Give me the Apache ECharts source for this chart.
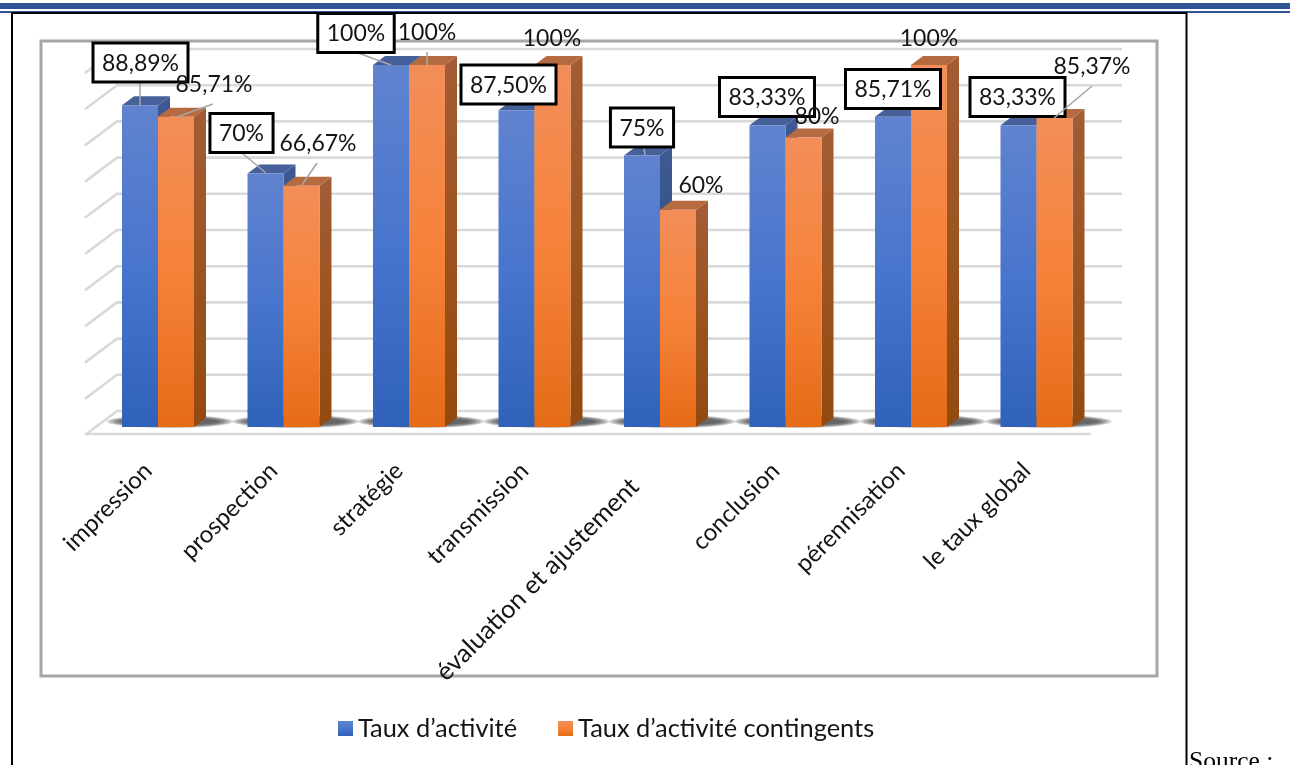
<!DOCTYPE html>
<html>
<head>
<meta charset="utf-8">
<style>
  html, body { margin: 0; padding: 0; background: #fff; }
  #chart { width: 1290px; height: 765px; }
</style>
<script src="https://cdn.jsdelivr.net/npm/echarts@6/dist/echarts.min.js"></script>
</head>
<body>
<div id="chart"></div>
<script>
const categories = ['impression', 'prospection', 'stratégie', 'transmission', 'évaluation et ajustement', 'conclusion', 'pérennisation', 'le taux global'];
const tauxActivite = [88.89, 70, 100, 87.5, 75, 83.33, 85.71, 83.33];
const tauxContingents = [85.71, 66.67, 100, 100, 60, 80, 100, 85.37];
const gridTicks = [0, 10, 20, 30, 40, 50, 60, 70, 80, 90, 100];

const FONT = 'Lato, "Open Sans", sans-serif';
const TEXT = '#141414';
const DEPTH_X = 12, DEPTH_Y = 9, BAR_W = 36;

// Hand-placed label centres and leader lines, in page pixels.
const blueCentres = [[140.5, 62.5], [241.5, 133], [356, 33], [508.5, 84.5], [642, 127.5], [767, 97], [893, 89], [1017.5, 97]];
const orangeCentres = [[214, 85], [318, 144], [427, 33], [552, 39], [701, 186], [817, 117], [929, 39], [1092, 67]];
const blueLeads = [[[140, 82], [140, 105]], [[242, 153], [266, 173]], [[358, 53], [391, 65]], null, [[644, 148], [645, 155]], null, null, null];
const orangeLeads = [[[213, 104], [177, 117]], [[317, 163], [302, 185]], [[427, 52], [427, 65]], null, null, null, null, [[1092, 86], [1054, 118]]];

function fmt(v) {
  return Number.isInteger(v) ? v + '%' : v.toFixed(2).replace('.', ',') + '%';
}

function grad(a, m, b) {
  return {
    type: 'linear', x: 0, y: 0, x2: 0, y2: 1,
    colorStops: [{ offset: 0, color: a }, { offset: 0.5, color: m }, { offset: 1, color: b }]
  };
}

const bluePalette = { front: grad('#6083cf', '#4875cd', '#2f62b8'), side: grad('#3f5a93', '#304f88', '#23457c'), top: '#46609a' };
const orangePalette = { front: grad('#f38e59', '#f6823a', '#e56b17'), side: grad('#a35c34', '#9c5420', '#934a10'), top: '#b66a40' };

// One 3D column: side face, top face and front face, anchored on the axis scales.
function barRenderer(shift, palette) {
  return function (params, api) {
    const top = api.coord([api.value(0), api.value(1)]);
    const base = api.coord([api.value(0), 0]);
    const x = top[0] + shift;
    const y = top[1];
    const b = base[1];
    const w = BAR_W;
    return {
      type: 'group',
      children: [
        { type: 'polygon', shape: { points: [[x + w, y], [x + w + DEPTH_X, y - DEPTH_Y], [x + w + DEPTH_X, b - DEPTH_Y], [x + w, b]] }, style: { fill: palette.side } },
        { type: 'polygon', shape: { points: [[x, y], [x + DEPTH_X, y - DEPTH_Y], [x + w + DEPTH_X, y - DEPTH_Y], [x + w, y]] }, style: { fill: palette.top } },
        { type: 'rect', shape: { x: x, y: y, width: w, height: b - y }, style: { fill: palette.front } }
      ]
    };
  };
}

// Value labels: a leader line plus text, optionally in a white box with a black outline.
function labelRenderer(values, centres, leads, boxed) {
  return function (params) {
    const i = params.dataIndex;
    const [cx, cy] = centres[i];
    const text = fmt(values[i]);
    const font = '23px ' + FONT;
    const children = [];
    if (leads[i]) {
      children.push({ type: 'line', shape: { x1: leads[i][0][0], y1: leads[i][0][1], x2: leads[i][1][0], y2: leads[i][1][1] }, style: { stroke: '#a6a6a6', lineWidth: 1.6 } });
    }
    if (boxed) {
      const w = echarts.format.getTextRect(text, font).width + 18;
      children.push({ type: 'rect', shape: { x: cx - w / 2, y: cy - 19.5, width: w, height: 39 }, style: { fill: '#fff', stroke: '#000', lineWidth: 3 } });
    }
    children.push({ type: 'text', style: { x: cx, y: boxed ? cy + 1 : cy, text: text, fill: TEXT, font: font, align: 'center', verticalAlign: 'middle' } });
    return { type: 'group', children: children };
  };
}

// Side wall, back wall and floor outline, one polyline per tick.
function wallRender(params, api) {
  const v = api.value(0);
  const y = api.coord([0, v])[1];
  const fx = 85, bx = 117, rx = 1122;
  const style = { stroke: '#d9d9d9', lineWidth: 2.6, fill: 'none' };
  const children = [{ type: 'polyline', shape: { points: [[fx, y + 8], [bx, y - 16], [rx, y - 16]] }, style }];
  if (v === 0) {
    children.push({ type: 'line', shape: { x1: fx, y1: y + 7, x2: 1091, y2: y + 7 }, style });
  }
  return { type: 'group', children };
}

// Soft contact shadow on the floor: stacked translucent ellipses behind each pair of columns.
function shadowRender(params, api) {
  const p = api.coord([api.value(0), 0]);
  const children = [];
  const layers = [[63, 6.5], [60, 6], [57, 5.5], [54, 5], [51, 4.4], [48, 3.6]];
  layers.forEach(function (l) {
    children.push({
      type: 'ellipse',
      shape: { cx: p[0] + 12, cy: p[1] - 5.5, rx: l[0], ry: l[1] },
      style: { fill: 'rgba(50,50,50,0.2)' }
    });
  });
  return { type: 'group', children };
}

function labelStyle(size, pad) {
  return { fontFamily: FONT, fontSize: size, color: TEXT, padding: [0, pad, 0, 0] };
}

const chart = echarts.init(document.getElementById('chart'), null, { renderer: 'canvas' });

chart.setOption({
  animation: false,
  backgroundColor: '#ffffff',
  graphic: [
    { type: 'rect', z: 0, shape: { x: 0, y: 3, width: 1290, height: 6 }, style: { fill: '#2f5597' } },
    { type: 'rect', z: 0, shape: { x: 0, y: 11, width: 1290, height: 2 }, style: { fill: '#2f5597' } },
    { type: 'polyline', z: 1, shape: { points: [[12, 765], [12, 13], [1186.5, 13], [1186.5, 765]] }, style: { stroke: '#000', lineWidth: 2, fill: 'none' } },
    { type: 'rect', z: 1, shape: { x: 41, y: 41, width: 1116, height: 635 }, style: { stroke: '#a6a6a6', lineWidth: 3, fill: '#fff' } },
    { type: 'text', z: 1, style: { x: 1189, y: 749, text: 'Source :', fill: '#000', font: '25.5px "Liberation Serif", serif' } }
  ],
  legend: {
    left: 333,
    top: 711,
    itemWidth: 15,
    itemHeight: 15,
    itemGap: 41,
    icon: 'rect',
    textStyle: { fontFamily: FONT, fontSize: 25.4, color: TEXT },
    data: [
      { name: 'Taux d’activité', itemStyle: { color: bluePalette.front } },
      { name: 'Taux d’activité contingents', itemStyle: { color: orangePalette.front } }
    ]
  },
  grid: { left: 95.25, top: 65, width: 1004, height: 362 },
  xAxis: {
    type: 'category',
    z: 8,
    data: categories,
    axisLine: { show: false },
    axisTick: { show: false },
    axisLabel: {
      interval: 0,
      rotate: 45,
      margin: 30,
      hideOverlap: false,
      formatter: function (name) {
        return (name.length > 20 ? '{far|' : '{near|') + name + '}';
      },
      rich: { near: labelStyle(24, 14), far: labelStyle(25.4, 36) }
    }
  },
  yAxis: {
    type: 'value',
    min: 0,
    max: 100,
    interval: 10,
    axisLabel: { show: false },
    axisLine: { show: false },
    axisTick: { show: false },
    splitLine: { show: false }
  },
  series: [
    { type: 'custom', name: 'walls', z: 2, clip: false, silent: true, data: gridTicks.map(t => [t]), renderItem: wallRender },
    { type: 'custom', name: 'shadow', z: 3, clip: false, silent: true, data: categories.map((c, i) => [i]), renderItem: shadowRender },
    { type: 'custom', name: 'Taux d’activité', z: 4, clip: false, itemStyle: { color: '#4472c4' }, data: tauxActivite.map((v, i) => [i, v]), renderItem: barRenderer(-BAR_W, bluePalette) },
    { type: 'custom', name: 'Taux d’activité contingents', z: 5, clip: false, itemStyle: { color: '#ed7d31' }, data: tauxContingents.map((v, i) => [i, v]), renderItem: barRenderer(0, orangePalette) },
    { type: 'custom', name: 'blue labels', z: 6, clip: false, silent: true, data: tauxActivite.map((v, i) => [i, v]), renderItem: labelRenderer(tauxActivite, blueCentres, blueLeads, true) },
    { type: 'custom', name: 'orange labels', z: 7, clip: false, silent: true, data: tauxContingents.map((v, i) => [i, v]), renderItem: labelRenderer(tauxContingents, orangeCentres, orangeLeads, false) }
  ]
});
</script>
</body>
</html>
